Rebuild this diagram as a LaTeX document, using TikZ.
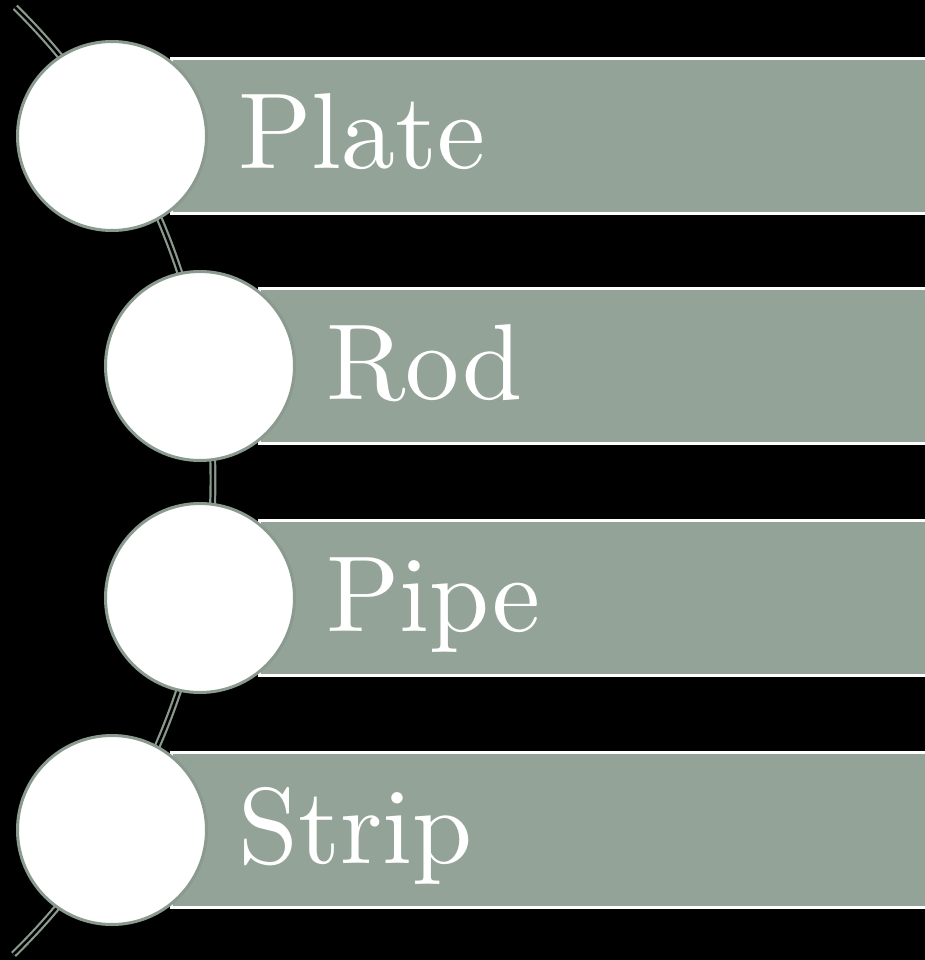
\documentclass[tikz,border=0pt]{standalone}
\usepackage{fontspec}
\newfontfamily\bandfont{lmroman10-regular}[Extension=.otf]
\definecolor{barfill}{HTML}{93A397}
\definecolor{rimgray}{HTML}{8A9A8E}
\tikzset{
  bandbox/.style={rectangle, fill=barfill, draw=white, line width=3pt,
    minimum height=155pt, minimum width=900pt, inner sep=0pt, anchor=west},
  disc/.style={circle, fill=white, draw=rimgray, line width=3pt,
    minimum size=189pt, inner sep=0pt},
  bandlabel/.style={text=white, inner sep=0pt, anchor=base west,
    font=\bandfont\fontsize{108}{110}\selectfont},
  spine/.style={draw=rimgray, line width=2.2pt, double=black, double distance=2.5pt}
}
\begin{document}
\begin{tikzpicture}[x=1pt, y=-1pt]
  % black page
  \fill[black] (0,0) rectangle (925,960);
  \useasboundingbox (0,0) rectangle (925,960);
  % curved spine behind the discs
  \coordinate (hub) at (-451,480);
  \draw[spine] ([shift={(-45.4:664)}]hub) arc[start angle=-45.4, end angle=45.6, radius=664];
  % bands, discs and labels
  \foreach \cx/\cy/\n/\lab in {112/136/1/Plate, 200/366/2/Rod, 200/598/3/Pipe, 112/830/4/Strip}{
    \node[bandbox] (b\n) at (\cx+58,\cy) {};
    \node[disc] (c\n) at (\cx,\cy) {};
    \node[bandlabel] (t\n) at (\cx+126,\cy+33) {\lab};
  }
\end{tikzpicture}
\end{document}
